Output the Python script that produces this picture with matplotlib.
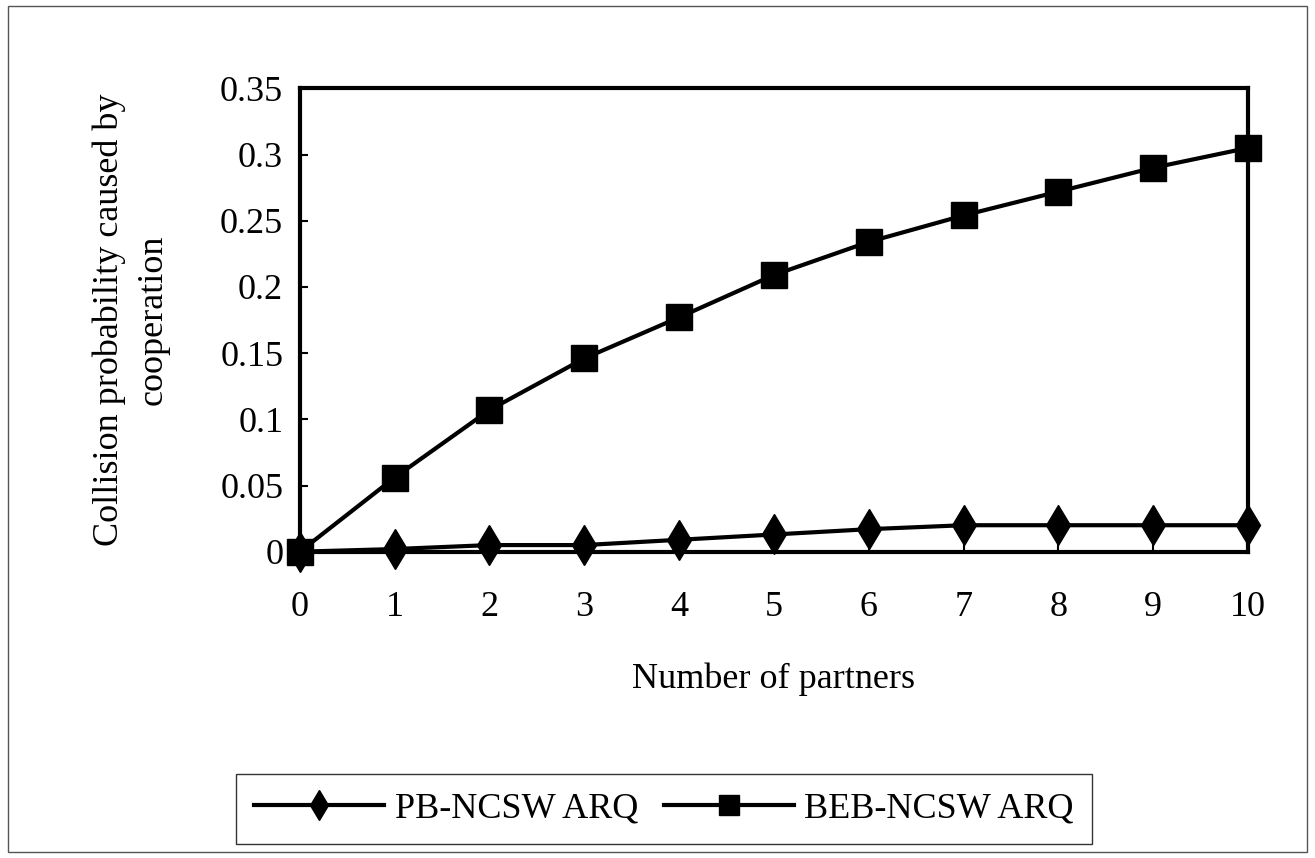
import matplotlib
matplotlib.use("Agg")
import matplotlib.pyplot as plt
from matplotlib.patches import Rectangle

partners = list(range(11))
pb_ncsw = [0.0, 0.002, 0.005, 0.005, 0.009, 0.013, 0.017, 0.020, 0.020, 0.020, 0.020]
beb_ncsw = [0.0, 0.056, 0.107, 0.146, 0.177, 0.209, 0.234, 0.254, 0.272, 0.290, 0.305]
yticks = [0, 0.05, 0.1, 0.15, 0.2, 0.25, 0.3, 0.35]
ytick_labels = ["0", "0.05", "0.1", "0.15", "0.2", "0.25", "0.3", "0.35"]

plt.rcParams['font.family'] = ['Liberation Serif', 'DejaVu Serif']
fs = 26

fig = plt.figure(figsize=(13.15, 8.58), dpi=100)
ax = fig.add_axes([0.228, 0.357, 0.721, 0.540])

ax.plot(partners, pb_ncsw, color='black', lw=3, marker='d', markersize=20,
        label='PB-NCSW ARQ', clip_on=False, zorder=3)
ax.plot(partners, beb_ncsw, color='black', lw=3, marker='s', markersize=19,
        label='BEB-NCSW ARQ', clip_on=False, zorder=3)

ax.set_xlim(0, 10)
ax.set_ylim(0, 0.35)
ax.set_xticks(partners)
ax.set_yticks(yticks)
ax.set_yticklabels(ytick_labels)
ax.tick_params(direction='in', length=6, width=1.5, labelsize=fs)
ax.tick_params(axis='y', pad=12)
ax.tick_params(axis='x', pad=28)
for s in ax.spines.values():
    s.set_linewidth(3)

ax.set_xlabel('Number of partners', fontsize=fs, labelpad=28)
ax.set_ylabel('Collision probability caused by\ncooperation', fontsize=fs,
              labelpad=36, linespacing=1.45)

leg = fig.legend(loc='center', bbox_to_anchor=(664 / 1315, 1 - 809 / 858), ncol=2,
                 fontsize=fs, handlelength=3.6, handletextpad=0.3,
                 columnspacing=0.7, markerscale=0.75,
                 frameon=True, fancybox=False, edgecolor='black',
                 borderpad=0.5)
leg.get_frame().set_linewidth(1)

fig.patches.append(Rectangle((8 / 1315, 6 / 858), 1 - 16 / 1315, 1 - 12 / 858,
                             transform=fig.transFigure, fill=False,
                             edgecolor='#555555', lw=1))

fig.savefig('out.png', dpi=100)
